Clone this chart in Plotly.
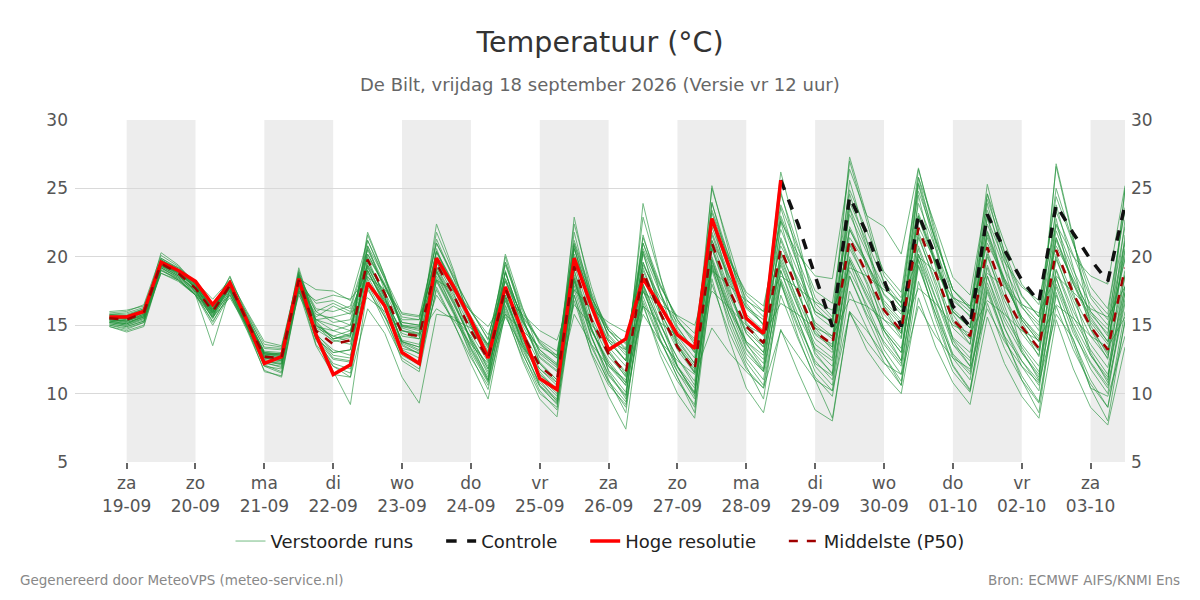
import pandas as pd
import plotly.graph_objects as go

# tijdstappen van 6 uur, 18 sep 18 UTC t/m 3 okt 12 UTC
tijden = pd.date_range('2026-09-18 18:00', periods=60, freq='6h')

dag_ticks = pd.date_range('2026-09-19', '2026-10-03', freq='D')
dag_labels = ['za<br>19-09', 'zo<br>20-09', 'ma<br>21-09', 'di<br>22-09', 'wo<br>23-09',
              'do<br>24-09', 'vr<br>25-09', 'za<br>26-09', 'zo<br>27-09', 'ma<br>28-09',
              'di<br>29-09', 'wo<br>30-09', 'do<br>01-10', 'vr<br>02-10', 'za<br>03-10']
grijze_dagen = ['2026-09-19', '2026-09-21', '2026-09-23', '2026-09-25',
                '2026-09-27', '2026-09-29', '2026-10-01', '2026-10-03']

hoge_resolutie = [15.6, 15.6, 16.0, 19.6, 19.0, 18.2, 16.5, 18.1, 15.3, 12.2, 12.7, 18.4, 14.3,
                  11.4, 12.1, 18.1, 16.4, 13.0, 12.2, 19.9, 17.8, 15.4, 12.6, 17.8, 14.5, 11.1,
                  10.3, 19.9, 16.4, 13.2, 14.0, 18.4, 16.4, 14.3, 13.3, 22.8, 19.3, 15.5, 14.4,
                  25.6] + [None] * 20

controle = [None] * 39 + [25.6, 22.4, 18.6, 14.9, 24.4, 21.7, 18.3, 14.9, 23.1, 20.0, 16.4, 14.9,
                          23.1, 20.5, 18.3, 16.7, 23.8, 21.7, 19.8, 18.2, 23.8]

p50 = [15.5, 15.4, 15.9, 19.5, 18.8, 17.7, 16.0, 17.9, 15.3, 12.7, 12.6, 18.3, 14.6, 13.6, 13.9,
       19.8, 17.3, 14.4, 14.2, 19.5, 17.2, 14.6, 12.5, 17.7, 14.4, 12.0, 11.0, 19.3, 15.4, 12.9,
       11.5, 18.9, 15.9, 13.4, 11.7, 21.0, 17.6, 14.9, 13.7, 20.6, 17.5, 14.5, 13.6, 21.3, 18.8,
       16.1, 14.6, 22.1, 18.8, 15.4, 14.2, 20.7, 17.3, 14.9, 13.3, 20.5, 17.3, 14.9, 13.2, 19.2]

# verstoorde runs (ensemble-leden)
runs = [
    [15.7, 15.6, 16.1, 19.8, 19.0, 17.9, 16.3, 18.2, 15.6, 13.1, 13.0, 18.6, 16.2, 16.0, 16.4, 20.5, 17.8, 15.0, 14.9, 20.3, 17.9, 15.5, 13.4, 18.9, 15.3, 13.2, 12.0, 20.6, 16.8, 14.3, 13.0, 20.4, 17.3, 14.8, 13.2, 22.6, 19.0, 16.2, 15.1, 22.0, 18.9, 16.0, 15.2, 23.1, 20.3, 17.8, 16.3, 23.9, 20.6, 17.1, 16.0, 22.4, 19.1, 16.6, 15.2, 22.3, 19.0, 16.5, 15.0, 21.2],
    [15.2, 15.0, 15.5, 19.2, 18.5, 17.4, 15.6, 17.5, 14.9, 12.2, 12.0, 17.9, 14.0, 12.5, 12.3, 19.0, 16.5, 13.3, 13.0, 18.6, 16.2, 13.4, 11.2, 16.5, 13.2, 10.8, 9.6, 17.9, 14.1, 11.4, 9.9, 17.5, 14.5, 11.9, 10.1, 19.2, 15.8, 12.9, 11.6, 18.4, 15.4, 12.2, 11.3, 19.0, 16.5, 13.6, 12.0, 19.8, 16.4, 12.9, 11.6, 18.1, 14.8, 12.4, 10.9, 18.0, 14.9, 12.3, 10.6, 16.9],
    [15.4, 15.2, 15.6, 19.9, 19.1, 17.6, 15.5, 18.3, 15.0, 12.0, 11.8, 18.8, 14.2, 12.6, 12.4, 20.8, 17.5, 13.5, 12.9, 20.6, 17.4, 13.7, 11.0, 19.0, 14.5, 11.0, 9.4, 20.8, 15.5, 11.6, 9.6, 20.4, 15.8, 12.0, 9.8, 22.8, 17.9, 13.7, 11.8, 22.6, 17.9, 13.0, 11.4, 23.6, 19.1, 14.6, 12.4, 24.5, 19.2, 13.9, 12.0, 23.0, 17.6, 13.2, 11.0, 22.8, 17.4, 13.0, 10.8, 21.6],
    [15.8, 15.9, 16.3, 19.3, 18.9, 18.0, 16.6, 17.6, 15.9, 13.6, 13.4, 17.7, 16.8, 17.2, 16.9, 18.5, 17.6, 15.9, 15.7, 18.3, 17.5, 16.0, 14.9, 17.0, 15.8, 14.6, 13.9, 17.6, 16.2, 15.2, 14.5, 17.4, 16.5, 15.7, 15.0, 19.0, 17.9, 16.8, 16.0, 18.6, 17.7, 16.7, 16.1, 19.2, 18.6, 17.6, 16.7, 20.0, 18.9, 17.0, 16.4, 18.8, 17.8, 16.5, 15.9, 18.6, 17.4, 16.2, 15.6, 17.8],
    [15.0, 14.7, 15.2, 19.0, 18.4, 17.3, 15.2, 17.4, 14.8, 12.1, 11.6, 17.8, 13.6, 12.0, 11.5, 18.6, 16.2, 13.0, 12.2, 18.3, 15.9, 12.8, 10.3, 16.4, 13.0, 10.2, 8.8, 17.6, 13.6, 10.8, 9.0, 17.1, 13.9, 11.2, 9.0, 19.0, 15.4, 12.3, 10.6, 18.0, 14.8, 11.6, 10.2, 18.6, 15.6, 12.8, 10.9, 19.3, 15.8, 12.1, 10.3, 17.4, 14.0, 11.3, 9.4, 17.2, 13.9, 11.0, 9.0, 16.0],
    [15.6, 15.5, 16.0, 19.6, 18.9, 17.8, 16.1, 18.0, 15.4, 12.9, 12.8, 18.5, 15.0, 14.2, 14.6, 20.2, 17.9, 15.2, 15.0, 20.4, 18.1, 15.4, 13.3, 18.8, 15.4, 13.0, 12.1, 20.9, 17.0, 14.6, 13.3, 21.0, 17.9, 15.4, 13.8, 23.4, 20.0, 17.2, 16.0, 23.8, 20.6, 17.5, 16.6, 24.9, 21.9, 18.9, 17.4, 25.8, 22.2, 18.5, 17.2, 24.6, 21.0, 18.0, 16.5, 24.4, 20.9, 17.8, 16.2, 23.4],
    [15.3, 15.1, 15.7, 19.4, 18.6, 17.5, 15.8, 17.7, 15.1, 12.5, 12.3, 18.0, 15.8, 15.5, 15.0, 19.0, 16.6, 13.8, 13.4, 18.9, 16.5, 14.0, 12.0, 17.2, 13.8, 11.4, 10.4, 18.5, 14.7, 12.2, 10.8, 18.0, 15.1, 12.6, 10.9, 20.0, 16.6, 13.8, 12.5, 19.4, 16.3, 13.3, 12.4, 20.0, 17.5, 14.8, 13.3, 20.8, 17.5, 14.1, 13.0, 19.4, 16.0, 13.6, 12.0, 19.1, 16.0, 13.6, 11.9, 17.9],
    [15.9, 16.0, 16.5, 20.1, 19.3, 18.1, 16.4, 18.5, 15.8, 13.3, 13.2, 19.0, 15.3, 14.0, 14.3, 21.2, 18.3, 14.8, 14.4, 21.3, 18.4, 15.0, 12.6, 19.6, 15.6, 12.3, 11.0, 21.8, 16.8, 13.0, 11.2, 21.6, 17.4, 13.5, 11.5, 24.0, 19.4, 15.0, 13.4, 23.6, 19.4, 14.6, 13.2, 24.6, 20.7, 16.2, 14.1, 25.3, 20.6, 15.4, 13.6, 23.9, 19.1, 14.9, 12.7, 23.8, 19.2, 14.7, 12.5, 22.7],
    [15.1, 14.9, 15.3, 19.5, 18.7, 17.5, 15.7, 17.9, 15.0, 12.4, 12.1, 18.2, 14.2, 12.8, 12.6, 19.7, 17.0, 13.7, 13.1, 19.2, 16.8, 13.9, 11.4, 17.5, 14.0, 11.1, 9.8, 19.0, 14.8, 11.7, 10.1, 18.6, 15.2, 12.0, 10.0, 20.6, 16.9, 13.3, 11.7, 20.1, 16.6, 12.8, 11.5, 20.9, 18.0, 14.2, 12.4, 21.6, 17.9, 13.6, 12.0, 20.2, 16.4, 13.0, 11.2, 20.0, 16.4, 12.8, 11.0, 18.7],
    [16.0, 16.1, 16.4, 19.7, 19.2, 18.2, 16.9, 18.3, 16.0, 13.8, 13.5, 18.7, 16.0, 15.2, 15.4, 20.0, 17.9, 15.6, 15.4, 19.8, 17.8, 16.0, 14.3, 18.2, 15.7, 13.9, 13.1, 19.6, 16.6, 14.6, 13.7, 19.4, 17.0, 15.2, 14.0, 21.2, 18.6, 16.3, 15.4, 20.8, 18.4, 16.0, 15.3, 21.4, 19.5, 17.3, 16.0, 22.2, 19.6, 16.8, 15.7, 21.0, 18.4, 16.3, 15.0, 20.8, 18.3, 16.0, 14.7, 19.8],
    [14.9, 14.6, 15.0, 19.1, 18.3, 17.2, 15.3, 17.3, 14.7, 12.0, 11.5, 17.6, 14.3, 13.2, 12.8, 18.0, 15.6, 12.8, 12.1, 17.6, 15.1, 12.6, 10.6, 15.8, 12.6, 10.0, 9.0, 16.8, 13.0, 10.6, 9.2, 16.4, 13.2, 10.9, 9.2, 18.0, 14.5, 11.8, 10.4, 17.2, 14.0, 11.2, 9.8, 17.5, 14.8, 12.3, 10.6, 18.2, 14.7, 11.6, 10.1, 16.6, 13.3, 11.0, 9.3, 16.4, 13.2, 10.7, 9.0, 15.2],
    [15.5, 15.3, 15.8, 19.8, 19.0, 17.8, 16.0, 18.2, 15.5, 12.8, 12.6, 18.9, 15.0, 13.8, 14.1, 21.6, 18.6, 14.9, 14.6, 21.8, 18.8, 15.3, 13.1, 20.2, 16.3, 12.9, 11.9, 22.4, 17.8, 14.0, 12.4, 22.9, 18.5, 14.9, 13.0, 25.0, 20.8, 16.6, 15.0, 26.2, 21.4, 16.3, 15.1, 27.0, 22.6, 18.0, 16.3, 26.4, 21.8, 17.0, 15.6, 25.3, 20.2, 16.4, 14.6, 26.6, 21.2, 16.0, 14.2, 24.9],
    [15.2, 15.0, 15.4, 19.3, 18.6, 17.6, 15.8, 17.6, 15.0, 12.3, 12.2, 18.1, 14.1, 11.6, 9.2, 17.8, 15.2, 12.6, 11.8, 18.9, 16.0, 13.2, 10.9, 17.2, 13.6, 10.6, 9.2, 18.4, 14.2, 11.0, 8.6, 17.8, 14.0, 11.2, 8.6, 19.4, 15.0, 12.0, 9.6, 18.2, 14.2, 11.0, 8.2, 16.0, 14.6, 12.8, 10.6, 19.8, 15.4, 12.0, 10.2, 17.8, 14.2, 11.0, 8.6, 17.4, 13.6, 10.4, 8.0, 15.4],
    [15.8, 15.8, 16.2, 19.6, 19.1, 18.0, 16.3, 18.0, 15.7, 13.4, 13.3, 18.4, 17.6, 17.5, 16.8, 21.2, 18.5, 15.8, 15.6, 21.0, 18.4, 16.2, 13.9, 19.6, 16.2, 13.7, 12.6, 21.2, 17.4, 14.6, 13.2, 21.4, 18.0, 15.4, 13.6, 23.2, 19.8, 16.9, 15.6, 23.0, 19.8, 16.6, 15.4, 24.0, 21.1, 18.2, 16.6, 24.8, 21.2, 17.6, 16.2, 23.4, 20.0, 17.1, 15.6, 23.3, 20.1, 17.0, 15.4, 22.2],
    [15.5, 15.4, 15.9, 19.4, 18.7, 17.6, 15.9, 17.8, 15.3, 12.7, 12.5, 18.2, 14.7, 13.9, 13.6, 19.6, 17.2, 14.2, 14.0, 19.3, 17.0, 14.4, 12.3, 17.5, 14.2, 11.8, 10.8, 19.0, 15.2, 12.7, 11.3, 18.7, 15.7, 13.2, 11.5, 20.8, 17.4, 14.6, 13.4, 20.3, 17.3, 14.3, 13.4, 21.0, 18.6, 15.8, 14.4, 21.8, 18.6, 15.2, 14.0, 20.4, 17.1, 14.7, 13.1, 20.2, 17.1, 14.7, 13.0, 19.0],
    [15.4, 15.3, 15.7, 18.8, 18.3, 17.3, 15.9, 17.2, 15.0, 12.9, 12.9, 17.4, 15.4, 15.6, 15.9, 17.0, 16.0, 14.6, 14.3, 16.2, 15.4, 14.8, 13.6, 15.8, 14.6, 13.4, 12.8, 16.5, 15.0, 13.9, 13.2, 16.4, 15.2, 14.2, 13.4, 17.5, 16.3, 15.0, 14.3, 16.6, 15.8, 14.8, 14.2, 16.9, 16.4, 15.4, 14.6, 17.7, 16.6, 15.0, 14.4, 16.8, 15.8, 14.6, 13.9, 16.5, 15.5, 14.2, 13.4, 15.6],
    [15.3, 15.2, 15.6, 19.5, 18.9, 17.7, 15.9, 17.8, 15.2, 12.6, 12.4, 18.4, 14.4, 13.0, 13.2, 19.9, 17.0, 13.8, 13.4, 19.0, 16.7, 13.8, 11.6, 17.0, 13.7, 11.2, 10.0, 18.7, 14.8, 12.0, 10.6, 19.2, 16.0, 13.6, 12.0, 22.2, 18.6, 15.8, 14.6, 22.8, 19.4, 15.8, 14.8, 23.6, 20.6, 17.2, 15.8, 23.2, 19.8, 16.0, 14.8, 21.8, 18.2, 15.4, 13.8, 21.4, 18.0, 15.2, 13.6, 20.6],
    [15.6, 15.4, 15.8, 19.6, 18.8, 17.8, 16.1, 17.9, 15.2, 12.6, 12.4, 18.1, 14.9, 14.6, 14.2, 19.0, 16.4, 13.6, 12.9, 18.2, 15.8, 13.0, 10.8, 16.2, 12.9, 10.5, 9.3, 17.2, 13.4, 10.9, 9.4, 16.8, 13.8, 11.6, 10.0, 19.4, 16.2, 13.8, 12.8, 20.4, 17.3, 14.4, 13.6, 22.0, 19.4, 16.4, 15.0, 23.0, 19.6, 16.2, 15.0, 21.9, 18.4, 15.6, 14.2, 21.9, 18.6, 15.8, 14.4, 21.0],
    [15.7, 15.7, 16.2, 19.9, 19.2, 18.0, 16.2, 18.1, 15.5, 12.9, 12.8, 18.6, 15.4, 14.6, 15.0, 20.8, 18.4, 15.4, 15.4, 21.0, 18.6, 16.0, 14.0, 19.4, 16.0, 13.6, 12.6, 21.0, 17.2, 14.2, 12.8, 20.2, 16.6, 14.0, 12.2, 21.2, 17.6, 14.4, 13.0, 19.6, 16.4, 13.6, 12.6, 19.8, 17.2, 14.6, 13.0, 20.2, 16.9, 13.6, 12.4, 18.6, 15.3, 13.0, 11.4, 18.4, 15.2, 12.8, 11.2, 17.4],
    [15.4, 15.3, 15.7, 19.7, 18.9, 17.7, 16.0, 18.1, 15.4, 12.8, 12.7, 18.7, 15.1, 14.0, 14.4, 20.6, 18.0, 14.9, 14.8, 20.4, 18.0, 15.2, 12.9, 18.9, 15.3, 12.7, 11.7, 20.6, 16.7, 13.8, 12.4, 21.0, 17.4, 14.6, 13.0, 23.9, 20.0, 16.4, 15.0, 24.6, 20.8, 17.0, 15.6, 27.3, 23.0, 18.6, 17.0, 25.4, 21.2, 17.6, 16.4, 24.2, 20.4, 17.2, 15.6, 25.0, 21.0, 17.2, 15.8, 23.6],
    [15.6, 15.6, 16.0, 19.5, 18.9, 17.9, 16.2, 18.0, 15.4, 13.0, 12.9, 18.3, 15.6, 16.4, 15.8, 19.4, 17.4, 15.0, 14.7, 19.6, 17.6, 15.4, 13.6, 18.4, 15.6, 13.8, 12.8, 20.2, 17.0, 14.8, 13.6, 20.6, 17.8, 15.6, 14.4, 22.4, 19.8, 17.4, 16.4, 22.6, 20.2, 18.6, 18.4, 26.4, 23.0, 22.2, 20.2, 26.5, 21.4, 17.6, 16.2, 22.8, 19.6, 17.8, 16.8, 22.4, 20.0, 18.6, 18.0, 25.2],
    [15.0, 14.8, 15.2, 19.2, 18.5, 17.4, 15.5, 17.5, 14.9, 12.3, 11.9, 18.0, 13.9, 12.2, 11.8, 19.3, 16.6, 13.2, 12.6, 18.4, 16.0, 13.3, 11.0, 16.8, 13.4, 10.6, 9.5, 18.2, 14.2, 11.3, 9.8, 17.9, 14.6, 11.6, 9.6, 19.8, 15.8, 12.6, 11.0, 19.0, 15.4, 12.0, 10.6, 19.6, 16.2, 13.2, 11.4, 20.2, 16.2, 12.6, 11.0, 18.6, 14.8, 12.0, 10.2, 18.5, 14.7, 11.8, 10.0, 17.4],
    [15.3, 15.1, 15.6, 19.2, 18.4, 17.2, 13.5, 17.6, 14.8, 11.6, 11.3, 17.6, 14.2, 12.0, 11.2, 16.2, 14.4, 11.2, 9.3, 15.8, 15.6, 14.2, 11.8, 16.8, 14.0, 11.6, 10.2, 18.2, 14.6, 12.4, 10.8, 17.6, 14.4, 12.0, 10.4, 19.6, 16.2, 13.2, 11.6, 18.2, 15.0, 12.4, 11.0, 18.6, 15.8, 13.8, 12.2, 19.4, 15.8, 12.8, 11.4, 17.6, 14.2, 12.4, 10.6, 17.8, 14.4, 12.2, 10.4, 16.6],
    [15.8, 15.7, 16.1, 19.6, 19.0, 17.9, 16.2, 18.0, 15.5, 13.0, 12.9, 18.2, 16.6, 16.8, 16.2, 20.2, 17.8, 15.2, 15.0, 20.0, 17.8, 15.6, 13.5, 18.2, 15.2, 13.2, 12.2, 19.8, 16.2, 13.8, 12.4, 19.6, 16.6, 14.2, 12.6, 21.8, 18.4, 15.6, 14.4, 21.2, 18.0, 15.2, 14.2, 22.0, 19.6, 16.8, 15.4, 22.8, 19.4, 16.0, 14.8, 21.4, 18.0, 15.6, 14.0, 21.2, 18.0, 15.6, 13.8, 20.0],
    [14.9, 14.5, 14.9, 19.0, 18.3, 17.2, 15.0, 17.2, 14.6, 11.7, 11.2, 17.5, 13.5, 11.4, 11.2, 18.4, 15.8, 12.4, 11.6, 17.8, 15.2, 12.2, 9.6, 16.0, 12.4, 9.6, 8.3, 17.2, 12.9, 9.8, 7.4, 16.6, 12.8, 10.0, 8.2, 18.4, 14.0, 10.4, 8.6, 14.7, 11.6, 8.8, 8.0, 16.0, 13.2, 11.4, 10.0, 17.0, 13.4, 10.8, 9.2, 15.6, 12.2, 9.8, 8.2, 15.4, 11.8, 9.0, 7.7, 13.4],
    [15.5, 15.5, 16.0, 19.4, 18.8, 17.7, 16.0, 17.8, 15.3, 12.9, 12.7, 18.2, 15.4, 15.0, 14.6, 18.8, 16.8, 14.6, 14.4, 19.8, 17.6, 15.0, 13.0, 18.4, 15.0, 12.6, 11.6, 20.0, 16.2, 13.4, 12.0, 19.6, 16.4, 13.8, 12.2, 21.6, 18.2, 15.4, 14.2, 21.4, 18.2, 15.0, 14.0, 22.2, 19.6, 16.6, 15.2, 23.0, 19.6, 16.0, 14.8, 21.6, 18.2, 15.4, 13.8, 21.4, 18.2, 15.4, 13.8, 20.4],
    [15.2, 15.1, 15.5, 19.3, 18.6, 17.5, 15.7, 17.7, 15.0, 12.4, 12.2, 18.0, 14.0, 13.0, 13.2, 19.4, 16.8, 13.9, 13.6, 19.0, 16.6, 14.0, 11.8, 17.0, 13.6, 11.4, 10.2, 18.4, 14.6, 12.2, 10.6, 18.0, 15.0, 12.6, 10.6, 19.8, 16.4, 13.6, 12.2, 19.0, 15.8, 13.2, 12.0, 19.8, 17.0, 14.6, 13.0, 20.6, 17.0, 14.0, 12.6, 19.2, 15.6, 13.4, 11.6, 19.0, 15.6, 13.2, 11.4, 17.8],
    [15.6, 15.5, 15.9, 20.3, 19.4, 18.0, 16.1, 18.6, 15.6, 13.0, 12.8, 19.2, 15.2, 14.0, 14.2, 21.8, 18.6, 14.6, 14.2, 22.4, 19.0, 15.0, 12.4, 20.0, 15.6, 12.2, 10.8, 22.9, 17.2, 13.2, 11.4, 23.9, 18.6, 13.6, 11.6, 25.2, 20.4, 15.2, 13.6, 24.8, 20.0, 14.8, 13.4, 25.6, 21.2, 16.4, 14.4, 25.8, 21.0, 15.8, 14.0, 24.6, 19.8, 15.2, 13.2, 26.8, 21.4, 15.0, 12.8, 25.0],
    [15.4, 15.3, 15.8, 19.5, 18.8, 17.8, 16.0, 17.9, 15.4, 12.7, 12.6, 18.3, 16.0, 16.6, 16.0, 19.2, 17.0, 14.4, 14.0, 19.6, 17.2, 14.8, 12.6, 17.8, 14.6, 12.2, 11.0, 19.4, 15.6, 13.0, 11.6, 19.0, 16.0, 13.4, 11.8, 20.6, 17.2, 14.4, 13.0, 19.8, 16.8, 14.0, 13.0, 20.6, 18.2, 15.4, 14.0, 21.4, 18.2, 14.8, 13.6, 20.0, 16.8, 14.4, 12.8, 19.8, 16.8, 14.2, 12.6, 18.6],
    [15.1, 14.9, 15.3, 18.8, 18.2, 17.2, 15.6, 17.0, 14.9, 12.6, 12.5, 17.2, 14.8, 14.2, 13.8, 17.6, 15.6, 13.8, 13.2, 17.2, 15.4, 13.6, 12.2, 15.6, 13.4, 11.8, 10.6, 15.8, 13.6, 12.0, 11.0, 15.8, 13.8, 12.4, 11.4, 14.8, 13.0, 11.6, 10.4, 14.6, 12.8, 11.0, 10.2, 15.9, 13.8, 12.2, 11.4, 16.4, 14.2, 12.6, 11.8, 16.2, 13.8, 12.0, 10.8, 15.8, 14.0, 10.4, 9.8, 14.2],
]

fig = go.Figure()

for i, run in enumerate(runs):
    fig.add_trace(go.Scatter(
        x=tijden, y=run, mode='lines',
        line=dict(color='rgb(30,145,55)', width=1),
        opacity=0.62,
        name='Verstoorde runs\u00a0\u00a0\u00a0\u00a0', legendgroup='runs',
        showlegend=(i == 0), hoverinfo='skip'
    ))

fig.add_trace(go.Scatter(x=tijden, y=controle, mode='lines', name='Controle\u00a0\u00a0\u00a0\u00a0',
                         line=dict(color='#111111', width=3.5, dash='dash')))
fig.add_trace(go.Scatter(x=tijden, y=hoge_resolutie, mode='lines',
                         name='Hoge resolutie\u00a0\u00a0\u00a0\u00a0',
                         line=dict(color='#ff0000', width=3.5)))
fig.add_trace(go.Scatter(x=tijden, y=p50, mode='lines', name='Middelste (P50)',
                         line=dict(color='#a00000', width=2.5, dash='dash')))
# lege trace voor de rechter as
fig.add_trace(go.Scatter(x=[], y=[], yaxis='y2', showlegend=False, hoverinfo='skip'))

for dag in grijze_dagen:
    d = pd.Timestamp(dag)
    fig.add_shape(type='rect', xref='x', yref='paper', x0=d, x1=d + pd.Timedelta(days=1),
                  y0=0, y1=1, fillcolor='#ededed', line_width=0, layer='below')

fig.update_layout(
    width=1200, height=600,
    template='plotly_white',
    font=dict(family='DejaVu Sans, sans-serif', color='#555555'),
    title=dict(text='Temperatuur (°C)', x=0.5, xanchor='center', y=0.93, yanchor='middle',
               font=dict(size=28.5, color='#333333')),
    margin=dict(l=75, r=75, t=120, b=138),
    plot_bgcolor='white',
    xaxis=dict(
        type='date',
        range=['2026-09-18 06:00', '2026-10-03 12:00'],
        tickvals=dag_ticks, ticktext=dag_labels,
        showgrid=False, ticks='outside', ticklen=6, tickwidth=2, tickcolor='#666666',
        tickfont=dict(size=17, color='#555555'), showline=False, zeroline=False,
    ),
    yaxis=dict(
        range=[5, 30], dtick=5, showgrid=True, gridcolor='#d9d9d9', gridwidth=1,
        zeroline=False, tickfont=dict(size=17, color='#555555'), ticks='',
        ticklabelstandoff=6,
    ),
    yaxis2=dict(
        overlaying='y', side='right', matches='y', range=[5, 30], dtick=5,
        showgrid=False, zeroline=False, tickfont=dict(size=17, color='#555555'),
        ticklabelstandoff=5,
    ),
    legend=dict(orientation='h', x=0.5, xanchor='center', y=-0.232, yanchor='middle',
                font=dict(size=18, color='#222222'), bgcolor='rgba(0,0,0,0)'),
    annotations=[
        dict(text='De Bilt, vrijdag 18 september 2026 (Versie vr 12 uur)', xref='paper',
             yref='paper', x=0.5, y=1.105, xanchor='center', yanchor='middle',
             showarrow=False, font=dict(size=18, color='#666666')),
        dict(text='Gegenereerd door MeteoVPS (meteo-service.nl)', xref='paper', yref='paper',
             x=-0.0543, y=-0.345, xanchor='left', yanchor='middle', showarrow=False,
             font=dict(size=13.5, color='#888888')),
        dict(text='Bron: ECMWF AIFS/KNMI Ens', xref='paper', yref='paper',
             x=1.054, y=-0.345, xanchor='right', yanchor='middle', showarrow=False,
             font=dict(size=13.5, color='#888888')),
    ],
)

# geen body-marge zodat de figuur het venster precies vult
fig.write_html('out.html', config={'displayModeBar': False},
               post_script="document.body.style.margin='0';")
